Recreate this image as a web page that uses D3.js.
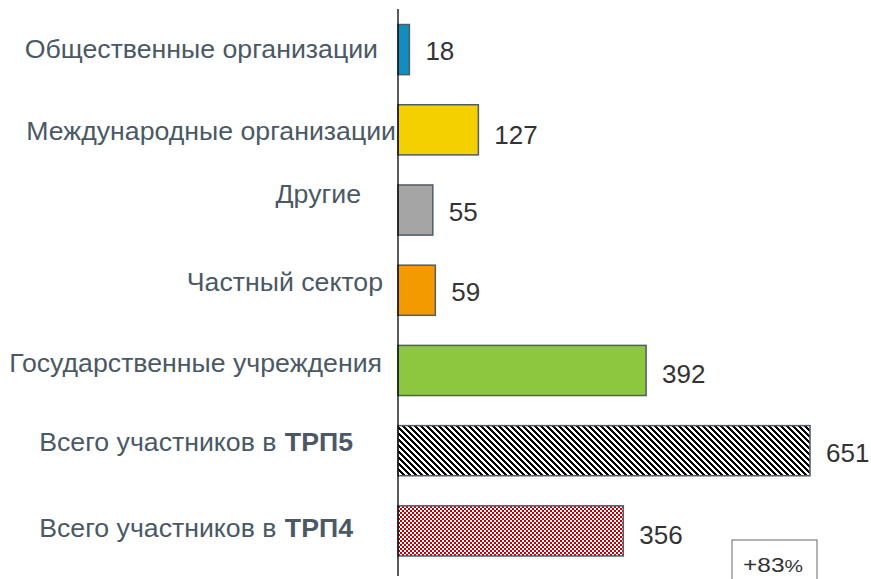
<!DOCTYPE html>
<html>
<head>
<meta charset="utf-8">
<script src="https://cdn.jsdelivr.net/npm/d3@7/dist/d3.min.js"></script>
<style>
  html, body { margin: 0; padding: 0; background: #fff; }
  svg { display: block; font-family: "Liberation Sans", Arial, sans-serif; }
</style>
</head>
<body>
<svg id="chart" width="871" height="579"></svg>
<script>
// ---- data ----
const categories = [
  "Общественные организации",
  "Международные организации",
  "Другие",
  "Частный сектор",
  "Государственные учреждения",
  "Всего участников в ТРП5",
  "Всего участников в ТРП4"
];
const boldSuffix = ["", "", "", "", "", "ТРП5", "ТРП4"];
const values = [18, 127, 55, 59, 392, 651, 356];
const changeLabel = "+83";
const changeUnit = "%";

// ---- layout / style (not data) ----
const fills = ["#118dbf", "#f5d000", "#a5a5a5", "#f29a00", "#8dc63f", "url(#diag)", "url(#checker)"];
const labelEnd = [378, 396, 361, 383, 382, 353, 353];
const labelDy = [-1.5, 0.5, -17, -8.5, -8, -9.5, -3];
const valueDy = [0.5, 4.5, 1.5, 1, 3, 1.5, 4];

const svg = d3.select("#chart");
const defs = svg.append("defs");

// diagonal pattern (downward diagonal)
const P = 6, B = 3;
const diag = defs.append("pattern").attr("id", "diag")
  .attr("patternUnits", "userSpaceOnUse").attr("width", P).attr("height", P);
diag.append("rect").attr("width", P).attr("height", P).attr("fill", "#fff");
for (let yy = 0; yy < P; yy++) {
  for (let k = 0; k < B; k++) {
    diag.append("rect").attr("x", (yy + k) % P).attr("y", yy)
      .attr("width", 1).attr("height", 1).attr("fill", "#000");
  }
}
// checkerboard pattern
const C = 2;
const chk = defs.append("pattern").attr("id", "checker")
  .attr("patternUnits", "userSpaceOnUse").attr("width", 2 * C).attr("height", 2 * C);
chk.append("rect").attr("width", 2 * C).attr("height", 2 * C).attr("fill", "#fff");
chk.append("rect").attr("x", 0).attr("y", 0).attr("width", C).attr("height", C).attr("fill", "#c00000");
chk.append("rect").attr("x", C).attr("y", C).attr("width", C).attr("height", C).attr("fill", "#c00000");

const x0 = 398;
const x = d3.scaleLinear().domain([0, 651]).range([x0, x0 + 412]);
const y = d3.scaleBand().domain(categories).range([9.5, 571]).paddingInner(0.375).paddingOuter(0.1875);

const data = categories.map((c, i) => ({ c, v: values[i], i }));

// bars
svg.append("g").selectAll("rect").data(data).join("rect")
  .attr("x", x(0))
  .attr("y", d => y(d.c))
  .attr("width", d => x(d.v) - x(0))
  .attr("height", y.bandwidth())
  .attr("fill", (d) => fills[d.i])
  .attr("stroke", "#4e5d69")
  .attr("stroke-width", 1.5);

// axis line
svg.append("line")
  .attr("x1", x0).attr("x2", x0)
  .attr("y1", 9).attr("y2", 576)
  .attr("stroke", "#000").attr("stroke-width", 1.3);

// value labels
svg.append("g").selectAll("text").data(data).join("text")
  .attr("x", d => x(d.v) + 16)
  .attr("y", d => y(d.c) + y.bandwidth() / 2 + 9.5 + valueDy[d.i])
  .attr("font-size", 26)
  .attr("fill", "#333")
  .text(d => d.v);

// category labels
const lab = svg.append("g").selectAll("text").data(data).join("text")
  .attr("x", d => labelEnd[d.i])
  .attr("y", d => y(d.c) + y.bandwidth() / 2 + 9.5 + labelDy[d.i])
  .attr("text-anchor", "end")
  .attr("font-size", 26.7)
  .attr("fill", "#4a5965");
lab.each(function (d) {
  const t = d3.select(this);
  const b = boldSuffix[d.i];
  if (b) {
    t.append("tspan").text(d.c.slice(0, d.c.length - b.length));
    t.append("tspan").attr("dx", 1).attr("font-weight", "bold").text(b);
  } else {
    t.text(d.c);
  }
});

// change box
svg.append("rect")
  .attr("x", 732).attr("y", 540).attr("width", 85).attr("height", 50)
  .attr("fill", "#fff").attr("stroke", "#666").attr("stroke-width", 1);
const ct = svg.append("text").attr("x", 743).attr("y", 572)
  .attr("fill", "#333")
  .attr("textLength", 60).attr("lengthAdjust", "spacingAndGlyphs");
ct.append("tspan").attr("font-size", 20).text(changeLabel);
ct.append("tspan").attr("font-size", 17).text(changeUnit);
</script>
</body>
</html>
